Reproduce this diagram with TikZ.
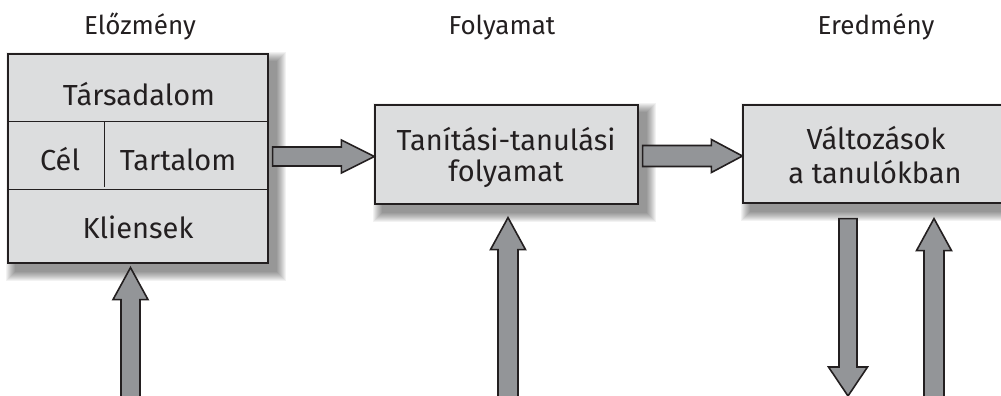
\documentclass[tikz,border=0pt]{standalone}
\usepackage{fontspec}
\setmainfont{Fira Sans}
\usetikzlibrary{calc}
\pgfdeclarelayer{bg}
\pgfsetlayers{bg,main}
\definecolor{boxfill}{HTML}{DCDDDE}
\definecolor{arrfill}{HTML}{939598}
\definecolor{ink}{HTML}{231F20}
\tikzset{
  panel/.style={draw=ink, line width=1.2pt, fill=boxfill, inner sep=0pt},
  cell/.style={font=\fontsize{29}{34}\selectfont, text=ink, inner sep=0pt, anchor=base},
  heading/.style={font=\fontsize{26}{30}\selectfont, text=ink, inner sep=0pt, anchor=base},
  blockarrow/.style={draw=ink, line width=1.6pt, fill=arrfill, line join=miter},
  divider/.style={draw=ink, line width=1pt},
}
% soft drop shadow between two corners
\newcommand{\softshadow}[2]{%
  \foreach \e in {9,...,0}{%
    \fill[black, opacity=0.05] ($(#1)+(8-\e,8-\e)$) rectangle ($(#2)+(8+\e,8+\e)$);
  }}
% right-pointing block arrow: #1 tail, #2 tip, #3 shaft half, #4 head half, #5 head length
\newcommand{\rarrow}[5]{%
  \draw[blockarrow] ($(#1)+(0,-#3)$) -- ($(#2)+(-#5,-#3)$) -- ($(#2)+(-#5,-#4)$) -- (#2)
    -- ($(#2)+(-#5,#4)$) -- ($(#2)+(-#5,#3)$) -- ($(#1)+(0,#3)$) -- cycle;}
% up-pointing block arrow (y axis points down)
\newcommand{\uarrow}[5]{%
  \draw[blockarrow] ($(#1)+(-#3,0)$) -- ($(#2)+(-#3,#5)$) -- ($(#2)+(-#4,#5)$) -- (#2)
    -- ($(#2)+(#4,#5)$) -- ($(#2)+(#3,#5)$) -- ($(#1)+(#3,0)$);}
% down-pointing block arrow
\newcommand{\darrow}[5]{%
  \draw[blockarrow] ($(#1)+(-#3,0)$) -- ($(#2)+(-#3,-#5)$) -- ($(#2)+(-#4,-#5)$) -- (#2)
    -- ($(#2)+(#4,-#5)$) -- ($(#2)+(#3,-#5)$) -- ($(#1)+(#3,0)$) -- cycle;}
\begin{document}
\begin{tikzpicture}[x=1pt,y=-1pt]
\useasboundingbox (0,0) rectangle (1001,396);

% titles
\node[heading] (t1) at (140,35) {Előzmény};
\node[heading] (t2) at (502,35) {Folyamat};
\node[heading] (t3) at (876,35) {Eredmény};

% boxes
\node[panel, minimum width=260, minimum height=209] (prec) at (138,158.5) {};
\node[panel, minimum width=263, minimum height=99] (proc) at (506.5,154.5) {};
\node[panel, minimum width=264, minimum height=98] (res) at (875,154) {};

\begin{pgfonlayer}{bg}
  \softshadow{prec.north west}{prec.south east}
  \softshadow{proc.north west}{proc.south east}
  \softshadow{res.north west}{res.south east}
\end{pgfonlayer}

% subdivisions of the first box
\draw[divider] ($(prec.north west)+(0,68)$) -- ($(prec.north east)+(0,68)$);
\draw[divider] ($(prec.north west)+(0,136)$) -- ($(prec.north east)+(0,136)$);
\draw[divider] ($(prec.north west)+(97,68)$) -- ($(prec.north west)+(97,134)$);

% texts
\node[cell] (soc) at (139,105) {Társadalom};
\node[cell] (cel) at (60,170) {Cél};
\node[cell] (tart) at (178,170) {Tartalom};
\node[cell] (kli) at (138,238) {Kliensek};
\node[cell] (p1) at (506,150) {Tanítási-tanulási};
\node[cell] (p2) at (506,181) {folyamat};
\node[cell] (r1) at (876,149) {Változások};
\node[cell] (r2) at (875,183) {a tanulókban};

% connectors
\coordinate (a1s) at ($(prec.east)+(4,-2)$);
\coordinate (a1e) at (proc.west |- a1s);
\rarrow{a1s}{a1e}{9.5}{16.5}{33}

\coordinate (a2s) at ($(proc.east)+(4,1.5)$);
\coordinate (a2e) at (res.west |- a2s);
\rarrow{a2s}{a2e}{10.5}{16.5}{31}

\coordinate (uLe) at ($(prec.south)+(-7.5,4)$);
\coordinate (uLs) at (uLe |- 0,402);
\uarrow{uLs}{uLe}{9.5}{17.5}{32}

\coordinate (uMe) at ($(proc.south)+(1.5,13)$);
\coordinate (uMs) at (uMe |- 0,402);
\uarrow{uMs}{uMe}{10}{17.5}{32}

\coordinate (uRe) at ($(res.south)+(59,15)$);
\coordinate (uRs) at (uRe |- 0,402);
\uarrow{uRs}{uRe}{10}{17.5}{32}

\coordinate (dRs) at ($(res.south)+(-27,15)$);
\coordinate (dRe) at (dRs |- 0,396);
\darrow{dRs}{dRe}{9}{19.5}{29}
\end{tikzpicture}
\end{document}
